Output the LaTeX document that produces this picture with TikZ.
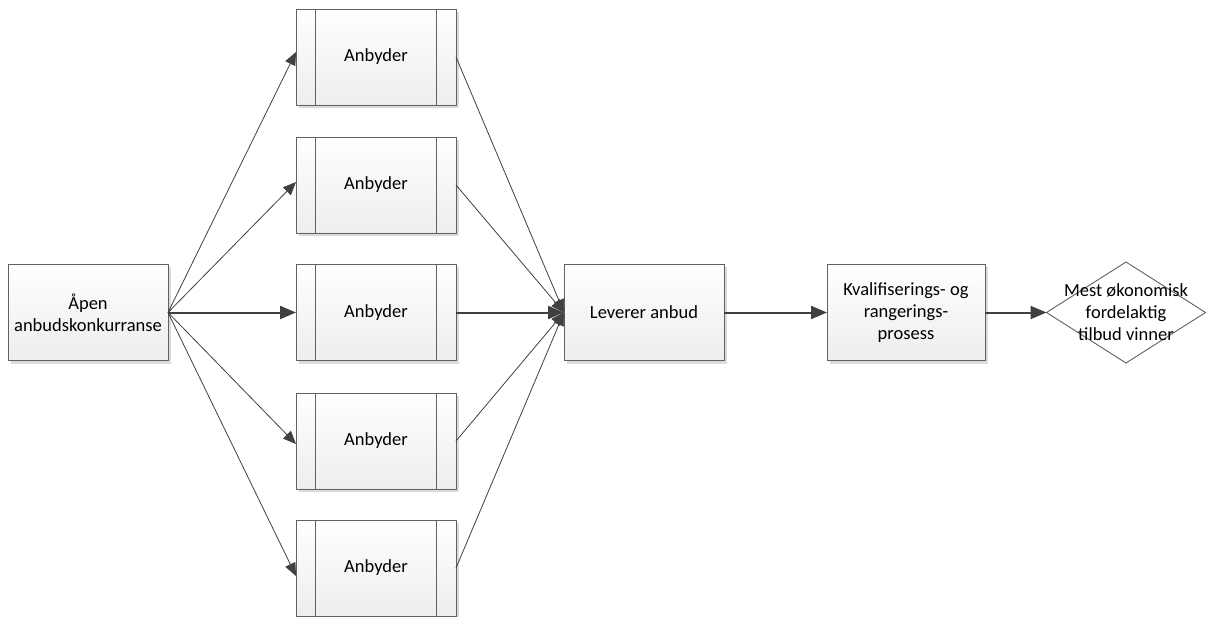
\documentclass[tikz,border=0pt]{standalone}
\usepackage{fontspec}
\setmainfont{Carlito}
\usetikzlibrary{arrows.meta,shapes.geometric,shadows}
\begin{document}
\begin{tikzpicture}[x=1pt,y=-1pt,
  every node/.style={font=\fontsize{18.5}{22}\selectfont, text=black, inner sep=0pt, outer sep=0pt, align=center},
  procbox/.style={draw=black!62, line width=0.9pt, top color=white, bottom color=black!7,
     minimum width=160pt, minimum height=96pt,
     drop shadow={shadow xshift=3pt, shadow yshift=-3pt, fill=black!40, opacity=0.35}},
  subbox/.style={procbox, path picture={
     \draw[draw=black!62, line width=0.9pt] ([xshift=19pt]path picture bounding box.north west) -- ([xshift=19pt]path picture bounding box.south west);
     \draw[draw=black!62, line width=0.9pt] ([xshift=-20pt]path picture bounding box.north east) -- ([xshift=-20pt]path picture bounding box.south east);}},
  decision/.style={diamond, draw=black!62, line width=0.9pt, fill=white,
     minimum width=159pt, minimum height=101pt, inner sep=0pt},
  thin/.style={draw=black!75, line width=0.8pt, -{Triangle[length=13pt,width=11pt]}},
  thick/.style={draw=black!75, line width=2pt, -{Triangle[length=16pt,width=13pt]}}
]
\useasboundingbox (0,0) rectangle (1206,617);
\node[procbox] (open) at (88,312.5) {Åpen\\anbudskonkurranse};
\node[subbox] (a1) at (376,57) {Anbyder};
\node[subbox] (a2) at (376,185) {Anbyder};
\node[subbox] (a3) at (376,312.5) {Anbyder};
\node[subbox] (a4) at (376,441) {Anbyder};
\node[subbox] (a5) at (376,568) {Anbyder};
\node[procbox] (lev) at (644,312.5) {Leverer anbud};
\node[procbox, minimum width=158pt] (kval) at (906,312.5) {Kvalifiserings- og\\rangerings-\\prosess};
\node[decision] (win) at (1126,312.5) {};
\node (wintext) at (win.center) {Mest økonomisk\\fordelaktig\\tilbud vinner};

\draw[thin] (open.east) -- ([yshift=5pt]a1.west);
\draw[thin] (open.east) -- ([yshift=3pt]a2.west);
\draw[thick] (open.east) -- (a3.west);
\draw[thin] (open.east) -- ([yshift=-3pt]a4.west);
\draw[thin] (open.east) -- ([yshift=-8pt]a5.west);

\draw[thin] (a1.east) -- (lev.west);
\draw[thin] (a2.east) -- (lev.west);
\draw[thick] (a3.east) -- (lev.west);
\draw[thin] (a4.east) -- (lev.west);
\draw[thin] (a5.east) -- (lev.west);

\draw[thick] (lev.east) -- (kval.west);
\draw[thick] (kval.east) -- (win.west);
\end{tikzpicture}
\end{document}
